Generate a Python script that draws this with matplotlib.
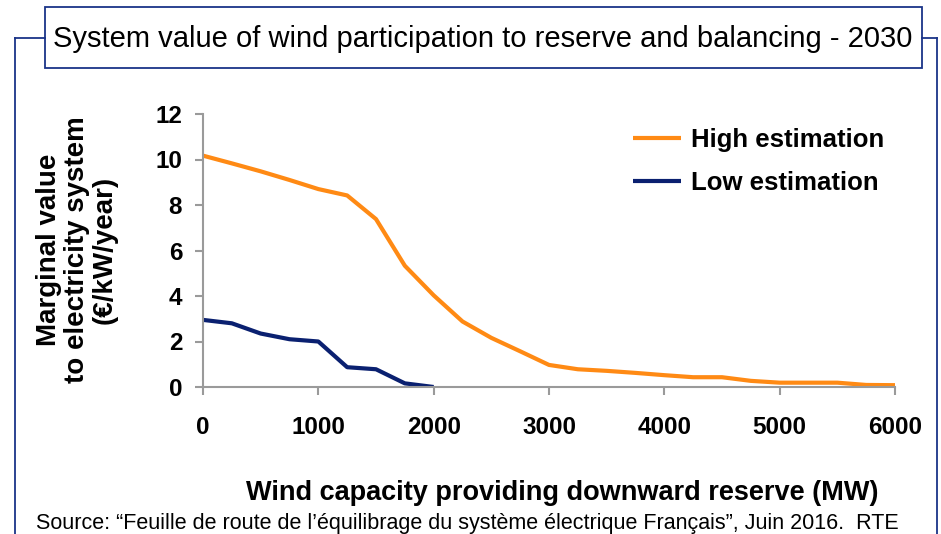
import matplotlib.pyplot as plt
from matplotlib.patches import Rectangle
from matplotlib.lines import Line2D

# Données (pas de 250 MW)
capacite_haute = [0, 250, 500, 750, 1000, 1250, 1500, 1750, 2000, 2250, 2500, 2750, 3000,
                  3250, 3500, 3750, 4000, 4250, 4500, 4750, 5000, 5250, 5500, 5750, 6000]
valeur_haute = [10.17, 9.83, 9.48, 9.1, 8.7, 8.42, 7.38, 5.33, 4.03, 2.88, 2.16, 1.57, 0.97,
                0.78, 0.71, 0.62, 0.52, 0.43, 0.43, 0.27, 0.19, 0.19, 0.19, 0.09, 0.08]
capacite_basse = [0, 250, 500, 750, 1000, 1250, 1500, 1750, 2000]
valeur_basse = [2.95, 2.8, 2.35, 2.1, 2.0, 0.87, 0.78, 0.16, 0.0]

x_ticks = [0, 1000, 2000, 3000, 4000, 5000, 6000]
y_ticks = [0, 2, 4, 6, 8, 10, 12]

titre = "System value of wind participation to reserve and balancing - 2030"
source = ("Source: \u201cFeuille de route de l\u2019\u00e9quilibrage du syst\u00e8me \u00e9lectrique "
          "Fran\u00e7ais\u201d, Juin 2016.  RTE")

W, H = 941, 534
orange = "#FF8A14"
marine = "#0A2070"
cadre = "#1A3488"
arial = ["Liberation Sans", "DejaVu Sans"]

fig = plt.figure(figsize=(W / 100, H / 100), dpi=100)
ax = fig.add_axes([203 / W, 1 - 387 / H, (895 - 203) / W, (387 - 114) / H])

ax.plot(capacite_haute, valeur_haute, color=orange, lw=3, label="High estimation",
        solid_joinstyle="round", solid_capstyle="butt")
ax.plot(capacite_basse, valeur_basse, color=marine, lw=3, label="Low estimation",
        solid_joinstyle="round", solid_capstyle="butt")

ax.set_xlim(0, 6000)
ax.set_ylim(0, 12)
ax.set_xticks(x_ticks)
ax.set_yticks(y_ticks)
for s in ["top", "right"]:
    ax.spines[s].set_visible(False)
for s in ["left", "bottom"]:
    ax.spines[s].set_color("#9A9A9A")
    ax.spines[s].set_linewidth(1.5)
ax.tick_params(direction="out", length=6, width=1.5, color="#9A9A9A")
ax.tick_params(axis="y", pad=9)
ax.tick_params(axis="x", pad=15)
for lab in ax.get_xticklabels() + ax.get_yticklabels():
    lab.set_family(arial)
    lab.set_fontweight("bold")
    lab.set_fontsize(17.5)

fs_leg = 18.5
leg = ax.legend(loc="upper left", bbox_to_anchor=(633 / W, 1 - 128 / H),
                bbox_transform=fig.transFigure, frameon=False,
                prop={"family": arial, "weight": "bold", "size": fs_leg},
                borderpad=0, borderaxespad=0,
                handlelength=1.85, handletextpad=0.4, labelspacing=0.75)

# Titre de l'axe Y
fig.text(77 / W, 1 - 250 / H, "Marginal value\nto electricity system\n(\u20ac/kW/year)",
         rotation=90, ha="center", va="center", multialignment="center",
         family=arial, fontweight="bold", fontsize=20, linespacing=1.1)

# Titre de l'axe X
fig.text(562 / W, 1 - 493 / H, "Wind capacity providing downward reserve (MW)",
         ha="center", va="center", family=arial, fontweight="bold", fontsize=19.5)

# Source
fig.text(36 / W, 1 - 523 / H, source, ha="left", va="center", family=arial, fontsize=15.5)

# Cadre extérieur
lignes = [([15, 15], [534, 38]), ([15, 45], [38, 38]), ([922, 937], [38, 38]), ([937, 937], [38, 534])]
for xs, ys in lignes:
    fig.add_artist(Line2D([x / W for x in xs], [1 - y / H for y in ys], color=cadre, lw=1.3))

# Boîte du titre
fig.add_artist(Rectangle((45 / W, 1 - 68 / H), (922 - 45) / W, (68 - 7) / H,
                         transform=fig.transFigure, fill=False, ec=cadre, lw=1.3))
fig.text(483 / W, 1 - 39 / H, titre, ha="center", va="center", family=arial, fontsize=21)

fig.savefig("out.png", dpi=100)
